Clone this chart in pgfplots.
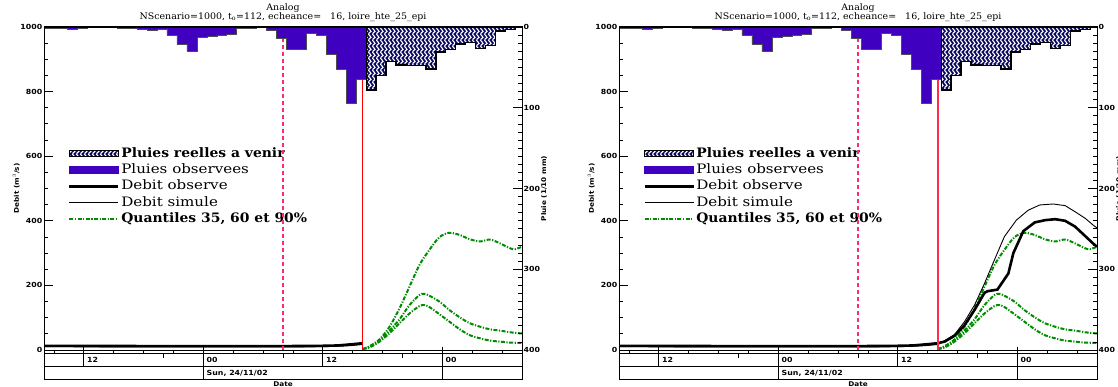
\documentclass[border=0pt]{standalone}
\usepackage{fontspec}
\setmainfont{DejaVu Serif}
\newfontfamily\tickfont[FakeStretch=1.12]{DejaVu Sans}
\newfontfamily\legfont[FakeStretch=1.16]{DejaVu Serif}
\newfontfamily\legfontb[FakeStretch=1.07]{DejaVu Serif}
\newfontfamily\titfont[FakeStretch=1.05]{DejaVu Serif}
\usepackage{pgfplots}
\usepackage{pgfplotstable}
\pgfplotsset{compat=1.18}
\usetikzlibrary{patterns}

\definecolor{barpurple}{RGB}{64,0,192}
\definecolor{navyh}{RGB}{10,10,100}
\definecolor{qgreen}{RGB}{0,140,0}
\definecolor{dpink}{RGB}{255,40,120}
\definecolor{fredA}{RGB}{255,0,0}
\definecolor{fredB}{RGB}{255,45,75}

\pgfdeclarepatternformonly{squig}{\pgfqpoint{-1bp}{-1bp}}{\pgfqpoint{5bp}{7bp}}{\pgfqpoint{4bp}{6bp}}{%
  \pgfsetlinewidth{1.1bp}%
  \pgfpathmoveto{\pgfqpoint{1bp}{0bp}}%
  \pgfpathcurveto{\pgfqpoint{3.5bp}{1bp}}{\pgfqpoint{3.5bp}{2bp}}{\pgfqpoint{2bp}{3bp}}%
  \pgfpathcurveto{\pgfqpoint{0.5bp}{4bp}}{\pgfqpoint{0.5bp}{5bp}}{\pgfqpoint{1bp}{6bp}}%
  \pgfusepath{stroke}%
}

% observed rain (left edges, 1/10 mm)
\pgfplotstableread{
t r
-16 1
-15.65 1
-14.65 2
-13.65 3
-12.65 2
-11.65 0.5
-10.65 0.5
-9.65 0.3
-8.65 1
-7.65 1
-6.65 3
-5.65 4
-4.65 3
-3.65 10
-2.65 21.5
-1.65 30
-0.65 12.4
0.35 12
1.35 10.5
2.35 9
3.35 1.5
4.35 1
5.35 0.5
6.35 4
7.35 14.5
8.35 27
9.35 27
10.35 8
11.35 10
12.35 34
13.35 52
14.35 95
15.35 65
16.35 65
}\obsrain

% future rain
\pgfplotstableread{
t r
16.35 78
17.35 60
18.35 43
19.35 47
20.35 48
21.35 48
22.35 52
23.35 31
24.35 28
25.35 21
26.35 19
27.35 27
28.35 23
29.35 5
30.35 3
31.35 1
32 1
}\futrain

% observed flow up to forecast time
\pgfplotstableread{
t q
-16 13
-10 12.5
-4 12
0 12
4 12
8 12
10 12.5
12 13
13.5 14
15 18
16 21
}\obsA

% simulated flow up to forecast time
\pgfplotstableread{
t q
-16 10
0 9.5
8 9.5
12 10
14 12
15 14
16 17
}\simA

% observed flow, full period
\pgfplotstableread{
t q
-16 13
-10 12.5
-4 12
0 12
4 12
8 12
10 12.5
12 13
13.5 14
15 18
16 21
16.7 26
17.7 44
18.7 77
19.7 124
20.7 177
21.0 182
22.0 187
23.1 237
23.6 300
24.6 368
25.75 395
26.8 402
27.8 405
28.8 400
29.8 382
30.7 356
31.6 330
32 320
}\obsAB

% simulated flow, full period
\pgfplotstableread{
t q
-16 10
0 9.5
8 9.5
12 10
14 12
15 14
16 17
16.7 29
17.7 48
18.7 88
19.7 139
20.7 206
21.7 279
22.7 351
23.9 402
25.1 433
26.25 449
27.6 452
28.8 447
29.8 428
30.8 408
31.6 387
32 378
}\simAB

\pgfplotstableread{
t q
16 3
16.7 12
17.7 33
18.7 72
19.7 129
20.7 196
21.7 263
22.7 310
23.7 349
24.7 363
25.75 356
26.75 343
27.8 336
28.8 342
29.8 330
30.8 315
31.3 312
32 320
}\qninety

\pgfplotstableread{
t q
16 3
16.7 10
17.7 29
18.7 60
19.7 95
20.7 139
21.7 170
22.2 174
22.7 168
23.7 150
24.7 124
25.75 101
26.75 83
27.8 72
28.8 64
29.8 60
30.8 55
32 51
}\qsixty

\pgfplotstableread{
t q
16 3
16.7 8
17.7 26
18.7 52
19.7 83
20.7 113
21.7 136
22.2 139
22.7 133
23.7 111
24.7 88
25.75 64
26.75 46
27.8 36
28.8 29
29.8 26
30.8 23
32 22
}\qtf

\pgfplotsset{
  common/.style={width=478bp,height=323bp,scale only axis,xmin=-16,xmax=32,xtick=\empty,
    axis line style={line width=1bp}, major tick length=9bp, minor tick length=4bp,
    every tick/.append style={black,line width=0.8bp}, tick align=inside,
    yticklabel style={font=\tickfont\bfseries\fontsize{7bp}{7bp}\selectfont, inner sep=1.5bp},
    /pgf/number format/assume math mode=true,
    /pgf/number format/1000 sep={},
    ylabel style={font=\tickfont\bfseries\fontsize{6.5bp}{7bp}\selectfont}},
  flowax/.style={common, ymin=0, ymax=1000, ytick={0,200,...,1000}, minor y tick num=3,
    ytick pos=left, ylabel={Debit (m$^3$/s)},
    ylabel style={at={(axis description cs:-0.058,0.5)}, anchor=center},
    legend style={at={(axis description cs:0.0502,0.627)}, anchor=north west, draw=none, fill=none,
      inner sep=0pt, row sep=4.4bp, column sep=1.5bp,
      font=\fontsize{13bp}{15bp}\selectfont, nodes={inner sep=0pt, text height=9.5bp, text depth=2.5bp}},
    legend cell align=left},
  rainax/.style={common, ymin=0, ymax=400, y dir=reverse, ytick={0,100,...,400}, minor y tick num=9,
    ytick pos=right, yticklabel pos=right, axis on top, ylabel={Pluie (1/10 mm)},
    ylabel style={at={(axis description cs:1.046,0.5)}, anchor=center}},
  lineax/.style={width=478bp,height=323bp,scale only axis,xmin=-16,xmax=32,ymin=0,ymax=400,hide axis},
  qline/.style={qgreen, line width=2bp, dash pattern=on 4bp off 1.5bp on 1.2bp off 1.5bp, smooth, forget plot},
  obsl/.style={black, line width=2.6bp, forget plot},
  siml/.style={black, line width=0.9bp, forget plot}
}

\newcommand{\addlegend}{%
  \addlegendimage{legend image code/.code={\draw[fill=navyh, postaction={pattern=squig, pattern color=white}, line width=1.5bp] (0bp,-3bp) rectangle (49bp,3bp);}}
  \addlegendentry{\legfontb\bfseries Pluies reelles a venir}
  \addlegendimage{legend image code/.code={\fill[barpurple] (0bp,-3.5bp) rectangle (49bp,3.5bp);}}
  \addlegendentry{\legfont Pluies observees}
  \addlegendimage{legend image code/.code={\draw[black, line width=2.6bp] (0bp,0bp) -- (49bp,0bp);}}
  \addlegendentry{\legfont Debit observe}
  \addlegendimage{legend image code/.code={\draw[black, line width=0.9bp] (0bp,0bp) -- (49bp,0bp);}}
  \addlegendentry{\legfont Debit simule}
  \addlegendimage{legend image code/.code={\draw[qgreen, line width=2.2bp, dash pattern=on 4bp off 1.5bp on 1.2bp off 1.5bp] (0bp,0bp) -- (49bp,0bp);}}
  \addlegendentry{\legfontb\bfseries Quantiles 35, 60 et 90\%}
}

% vertical marker lines (forecast time and analog date)
\newcommand{\vlines}[2]{%
  \addplot[draw=#1, line width=#2, solid] coordinates {(16,0) (16,400)};
  \addplot[draw=dpink, line width=1.2bp, dash pattern=on 4bp off 3bp] coordinates {(8,0) (8,400)};
}

\newcommand{\rainplots}{%
  \addplot[const plot, fill=barpurple, draw=black!70, line width=0.5bp] table[x=t,y=r] {\obsrain} \closedcycle;
  \addplot[const plot, fill=navyh, draw=black, line width=1.3bp, postaction={pattern=squig, pattern color=white}] table[x=t,y=r] {\futrain} \closedcycle;
}

\newcommand{\daterows}[1]{%
  \begin{scope}[line width=0.8bp]
    \pgfmathsetmacro{\xl}{#1}\pgfmathsetmacro{\xr}{#1+478}
    \draw (\xl bp,37bp) -- (\xl bp,7.5bp) -- (\xr bp,7.5bp) -- (\xr bp,37bp);
    \draw (\xl bp,33.5bp) -- (\xr bp,33.5bp);
    \draw (\xl bp,20.5bp) -- (\xr bp,20.5bp);
    \foreach \t in {-15,-9,-6,-3,3,6,9,15,18,21,27,30} {
      \pgfmathsetmacro{\xx}{#1+(\t+16)*9.958333}
      \draw (\xx bp,37bp) -- (\xx bp,33.5bp);
    }
    \foreach \t in {-4,8,20} {
      \pgfmathsetmacro{\xx}{#1+(\t+16)*9.958333}
      \draw (\xx bp,33.5bp) -- (\xx bp,28.5bp);
    }
    \foreach \t/\lab in {-12/12,12/12} {
      \pgfmathsetmacro{\xx}{#1+(\t+16)*9.958333}
      \draw (\xx bp,40bp) -- (\xx bp,20.5bp);
      \node[anchor=west, inner sep=0pt, font=\tickfont\bfseries\fontsize{7bp}{7bp}\selectfont] at (\xx bp+3bp,27bp) {\lab};
    }
    \foreach \t in {0,24} {
      \pgfmathsetmacro{\xx}{#1+(\t+16)*9.958333}
      \draw (\xx bp,40bp) -- (\xx bp,7.5bp);
      \node[anchor=west, inner sep=0pt, font=\tickfont\bfseries\fontsize{7bp}{7bp}\selectfont] at (\xx bp+3bp,27bp) {00};
    }
    \pgfmathsetmacro{\xz}{#1+16*9.958333}
    \node[anchor=west, inner sep=0pt, font=\tickfont\bfseries\fontsize{7bp}{7bp}\selectfont] at (\xz bp+3bp,14bp) {Sun, 24/11/02};
    \node[anchor=south, inner sep=0pt, font=\tickfont\bfseries\fontsize{6.5bp}{7bp}\selectfont] at (#1 bp+239bp,0.4bp) {Date};
    \node[inner sep=0pt, font=\titfont\fontsize{9bp}{9bp}\selectfont] at (#1 bp+239bp,379bp) {Analog};
    \node[inner sep=0pt, font=\titfont\fontsize{9bp}{9bp}\selectfont] at (#1 bp+239bp,370bp) {NScenario=1000, t$_{\mathrm{o}}$=112, echeance=\ \ \ 16, loire\_hte\_25\_epi};
  \end{scope}
}

\begin{document}
\begin{tikzpicture}
\path[use as bounding box] (0,0) rectangle (1118bp,387bp);

% ---------- left panel ----------
\begin{axis}[flowax, at={(44bp,37bp)}, anchor=south west]
  \addlegend
  \addplot[siml] table[x=t,y=q] {\simA};
  \addplot[obsl] table[x=t,y=q] {\obsA};
  \addplot[qline] table[x=t,y=q] {\qtf};
  \addplot[qline] table[x=t,y=q] {\qsixty};
  \addplot[qline] table[x=t,y=q] {\qninety};
\end{axis}
\begin{axis}[lineax, at={(44bp,37bp)}, anchor=south west]
  \vlines{fredA}{1.5bp}
\end{axis}
\begin{axis}[rainax, at={(44bp,37bp)}, anchor=south west]
  \rainplots
\end{axis}
\daterows{44}

% ---------- right panel ----------
\begin{axis}[flowax, at={(619bp,37bp)}, anchor=south west]
  \addlegend
  \addplot[qline] table[x=t,y=q] {\qtf};
  \addplot[qline] table[x=t,y=q] {\qsixty};
  \addplot[qline] table[x=t,y=q] {\qninety};
  \addplot[siml] table[x=t,y=q] {\simAB};
  \addplot[obsl] table[x=t,y=q] {\obsAB};
\end{axis}
\begin{axis}[lineax, at={(619bp,37bp)}, anchor=south west]
  \vlines{fredB}{1.8bp}
\end{axis}
\begin{axis}[rainax, at={(619bp,37bp)}, anchor=south west]
  \rainplots
\end{axis}
\daterows{619}
\end{tikzpicture}
\end{document}
